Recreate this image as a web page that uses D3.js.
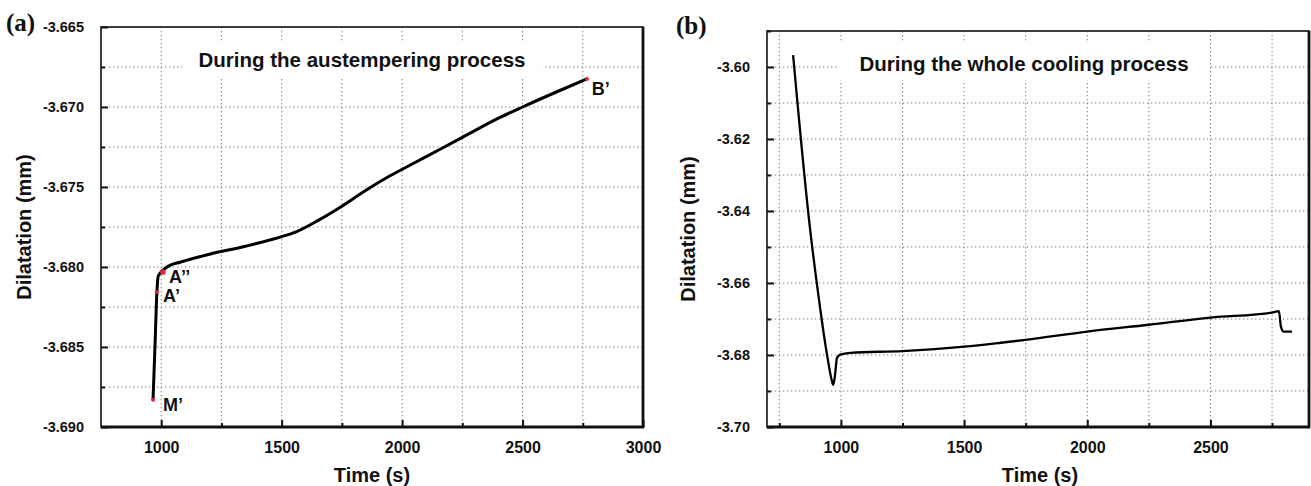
<!DOCTYPE html>
<html>
<head>
<meta charset="utf-8">
<script src="https://cdn.jsdelivr.net/npm/d3@7"></script>
<style>
  body { margin: 0; background: #fff; }
  svg text { font-family: Arial, "Liberation Sans", sans-serif; font-weight: bold; fill: #111; }
</style>
</head>
<body>
<svg id="chart" width="1311" height="486"></svg>
<script>
// panel (a): dilatation during austempering
var timeA = [966, 974, 982, 987, 995, 1007, 1036, 1078, 1200, 1350, 1500, 1560, 1650, 1750, 1850, 1950, 2050, 2150, 2250, 2400, 2500, 2650, 2767];
var dilA  = [-3.6883, -3.6850, -3.6816, -3.6806, -3.6804, -3.6802, -3.6799, -3.6797, -3.6792, -3.6787, -3.6781, -3.6778, -3.6771, -3.6762, -3.6752, -3.6743, -3.6735, -3.6727, -3.6719, -3.6707, -3.6700, -3.6690, -3.66825];
var markNames = ["M\u2019", "A\u2019", "A\u2019\u2019", "B\u2019"];
var markTime  = [966, 982, 1007, 2767];
var markDil   = [-3.6883, -3.68156, -3.68031, -3.66825];
var xTicksA = [1000, 1500, 2000, 2500, 3000];
var xMinorA = [1250, 1750, 2250, 2750];
var yTicksA = [-3.690, -3.685, -3.680, -3.675, -3.670, -3.665];
var yMinorA = [-3.6875, -3.6825, -3.6775, -3.6725, -3.6675];

// panel (b): whole cooling process
var timeB = [806, 875, 904, 945, 962, 969, 977, 984, 997, 1038, 1250, 1500, 1650, 1750, 2000, 2250, 2500, 2750, 2778, 2786, 2798, 2831];
var dilB  = [-3.5967, -3.6451, -3.6610, -3.6805, -3.6868, -3.6883, -3.6850, -3.6808, -3.6799, -3.6794, -3.6789, -3.6777, -3.6766, -3.6758, -3.6735, -3.6716, -3.6696, -3.6682, -3.6678, -3.6721, -3.6735, -3.6735];
var xTicksB = [1000, 1500, 2000, 2500];
var xMinorB = [750, 1250, 1750, 2250, 2750];
var yTicksB = [-3.70, -3.68, -3.66, -3.64, -3.62, -3.60];
var yMinorB = [-3.69, -3.67, -3.65, -3.63, -3.61, -3.59];

var svg = d3.select("#chart");

function drawPanel(p) {
  var x = d3.scaleLinear().domain(p.xDomain).range([p.left, p.right]);
  var y = d3.scaleLinear().domain(p.yDomain).range([p.bottom, p.top]);
  var g = svg.append("g");

  // dotted grid
  g.selectAll(".vgrid").data(p.xTicks.concat(p.xMinor).filter(function(d){ return d < p.xDomain[1]; }))
    .enter().append("line")
    .attr("x1", function(d){ return x(d); }).attr("x2", function(d){ return x(d); })
    .attr("y1", p.top).attr("y2", p.bottom)
    .attr("stroke", "#777").attr("stroke-width", 1).attr("stroke-dasharray", "1.3,2.7");
  g.selectAll(".hgrid").data(p.yTicks.concat(p.yMinor).filter(function(d){ return d < p.yDomain[1] - 1e-9 && d > p.yDomain[0] + 1e-9; }))
    .enter().append("line")
    .attr("y1", function(d){ return y(d); }).attr("y2", function(d){ return y(d); })
    .attr("x1", p.left).attr("x2", p.right)
    .attr("stroke", "#777").attr("stroke-width", 1).attr("stroke-dasharray", "1.3,2.7");

  // title box blanks the grid
  g.append("rect").attr("x", p.boxX0).attr("y", p.boxY0)
    .attr("width", p.boxX1 - p.boxX0).attr("height", p.boxY1 - p.boxY0).attr("fill", "#fff");
  g.append("text").attr("x", (p.boxX0 + p.boxX1) / 2).attr("y", p.titleY)
    .attr("text-anchor", "middle").style("font-size", "20.5px").text(p.title);

  // axes with inward ticks
  var xAx = g.append("g").attr("transform", "translate(0," + p.bottom + ")")
    .call(d3.axisBottom(x).tickValues(p.xTicks).tickSize(-7).tickPadding(15).tickFormat(d3.format("d")));
  g.append("g").attr("transform", "translate(0," + p.bottom + ")")
    .call(d3.axisBottom(x).tickValues(p.xMinor).tickSize(-4).tickFormat(""));
  var yAx = g.append("g").attr("transform", "translate(" + p.left + ",0)")
    .call(d3.axisLeft(y).tickValues(p.yTicks).tickSize(-7).tickPadding(17).tickFormat(function(d){ return d.toFixed(p.yDec); }));
  g.append("g").attr("transform", "translate(" + p.left + ",0)")
    .call(d3.axisLeft(y).tickValues(p.yMinor).tickSize(-4).tickFormat(""));
  g.selectAll(".domain").remove();
  g.selectAll(".tick line").attr("stroke", "#111").attr("stroke-width", 2);
  xAx.selectAll("text").style("font-size", "16px").attr("fill", "#111");
  yAx.selectAll("text").style("font-size", "14.5px").attr("fill", "#111");

  // frame, heavier on right and bottom
  g.append("rect").attr("x", p.left).attr("y", p.top)
    .attr("width", p.right - p.left).attr("height", p.bottom - p.top)
    .attr("fill", "none").attr("stroke", "#111").attr("stroke-width", 1.6);
  g.append("line").attr("x1", p.right).attr("x2", p.right).attr("y1", p.top).attr("y2", p.bottom + 1)
    .attr("stroke", "#111").attr("stroke-width", 2.8);
  g.append("line").attr("x1", p.left).attr("x2", p.right + 1).attr("y1", p.bottom).attr("y2", p.bottom)
    .attr("stroke", "#111").attr("stroke-width", 2.8);

  // data curve
  var line = d3.line().x(function(d){ return x(d[0]); }).y(function(d){ return y(d[1]); }).curve(d3.curveMonotoneX);
  g.append("path").datum(d3.zip(p.time, p.dil)).attr("d", line)
    .attr("fill", "none").attr("stroke", "#000").attr("stroke-width", p.lineW).attr("stroke-linejoin", "round");

  // marked points
  if (p.marks) {
    var labelOff = [[10, 11], [6, 10], [6, 11], [5, 16]];
    g.selectAll(".mk").data(p.marks).enter().append("circle")
      .attr("cx", function(d){ return x(d[1]); }).attr("cy", function(d){ return y(d[2]); })
      .attr("r", function(d, i){ return i === 2 ? 2.8 : 2; }).attr("fill", "#e0203a");
    g.selectAll(".mkl").data(p.marks).enter().append("text")
      .attr("x", function(d, i){ return x(d[1]) + labelOff[i][0]; })
      .attr("y", function(d, i){ return y(d[2]) + labelOff[i][1]; })
      .style("font-size", "18px").text(function(d){ return d[0]; });
  }

  // axis titles and panel letter
  svg.append("text").attr("transform", "translate(" + p.yLabX + "," + ((p.top + p.bottom) / 2) + ") rotate(-90)")
    .attr("text-anchor", "middle").style("font-size", "20px").text("Dilatation (mm)");
  svg.append("text").attr("x", p.xLabX).attr("y", 482)
    .attr("text-anchor", "middle").style("font-size", "20px").text("Time (s)");
  svg.append("text").attr("x", p.letterX).attr("y", p.letterY)
    .style("font-family", "'Liberation Serif', 'Times New Roman', serif").style("font-weight", "bold")
    .style("font-size", "25px").text(p.letter);
}

drawPanel({
  left: 101, right: 643, top: 27, bottom: 427,
  xDomain: [750, 3000], yDomain: [-3.690, -3.665], yDec: 3,
  xTicks: xTicksA, xMinor: xMinorA, yTicks: yTicksA, yMinor: yMinorA,
  time: timeA, dil: dilA, lineW: 3,
  marks: d3.zip(markNames, markTime, markDil),
  title: "During the austempering process", boxX0: 182, boxX1: 542, boxY0: 41, boxY1: 78, titleY: 67,
  yLabX: 31, xLabX: 372, letter: "(a)", letterX: 6, letterY: 31
});

drawPanel({
  left: 767, right: 1309, top: 31, bottom: 427,
  xDomain: [700, 2900], yDomain: [-3.70, -3.59], yDec: 2,
  xTicks: xTicksB, xMinor: xMinorB, yTicks: yTicksB, yMinor: yMinorB,
  time: timeB, dil: dilB, lineW: 2.3,
  marks: null,
  title: "During the whole cooling process", boxX0: 838, boxX1: 1210, boxY0: 43, boxY1: 80, titleY: 71,
  yLabX: 695, xLabX: 1040, letter: "(b)", letterX: 676, letterY: 34
});
</script>
</body>
</html>
